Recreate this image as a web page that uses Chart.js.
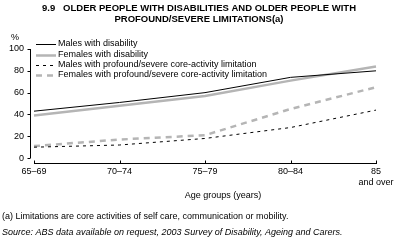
<!DOCTYPE html>
<html>
<head>
<meta charset="utf-8">
<script src="https://cdn.jsdelivr.net/npm/chart.js@4.4.1/dist/chart.umd.min.js"></script>
<style>
  html, body { margin: 0; padding: 0; background: #fff; }
  #wrap { position: relative; width: 397px; height: 246px; }
</style>
</head>
<body>
<div id="wrap"><canvas id="chart" width="397" height="246"></canvas></div>
<script>
// ── DATA ─────────────────────────────────────────────────────────────
const ageGroups = ['65–69', '70–74', '75–79', '80–84', ['85', 'and over']];
const yTicks = [0, 20, 40, 60, 80, 100];
const malesDisability   = [43, 51, 60, 74, 80];
const femalesDisability = [39, 48, 57, 71, 84];
const malesProfound     = [10, 12, 18, 28, 44];
const femalesProfound   = [11, 17, 21, 45, 65];

const FONT = '"Liberation Sans", Arial, sans-serif';
const GREY = '#b5b5b5';

// ── TEXT + AXIS LINES ────────────────────────────────────────────────
const decor = {
  id: 'decor',
  afterDatasetsDraw(chart) {
    const { ctx, chartArea: a, scales: { x, y } } = chart;
    ctx.save();
    ctx.strokeStyle = '#000';
    ctx.lineWidth = 1;
    // y axis
    const yx = Math.round(a.left - 4) + 0.5;
    ctx.beginPath();
    ctx.moveTo(yx, y.getPixelForValue(0));
    ctx.lineTo(yx, y.getPixelForValue(100));
    yTicks.forEach(v => {
      const py = Math.round(y.getPixelForValue(v)) + 0.5;
      ctx.moveTo(yx - 3, py); ctx.lineTo(yx, py);
    });
    // x axis
    const xy = Math.round(a.bottom) + 0.5;
    ctx.moveTo(a.left, xy); ctx.lineTo(a.right + 1, xy);
    ageGroups.forEach((_, i) => {
      const px = Math.round(x.getPixelForValue(i)) + 0.5;
      ctx.moveTo(px, xy); ctx.lineTo(px, xy - 3);
    });
    ctx.stroke();

    // legend
    ctx.textBaseline = 'middle';
    ctx.textAlign = 'left';
    ctx.font = '9px ' + FONT;
    const rowY = [44, 54.5, 64.5, 75];
    chart.data.datasets.forEach((ds, i) => {
      ctx.beginPath();
      ctx.strokeStyle = ds.borderColor;
      ctx.lineWidth = ds.borderWidth;
      ctx.setLineDash(ds.borderDash || []);
      ctx.moveTo(36, Math.round(rowY[i]) + 0.5);
      ctx.lineTo(56, Math.round(rowY[i]) + 0.5);
      ctx.stroke();
      ctx.setLineDash([]);
      ctx.fillStyle = '#000';
      ctx.fillText(ds.label, 58, rowY[i]);
    });

    // titles
    ctx.fillStyle = '#000';
    ctx.textAlign = 'center';
    ctx.font = 'bold 9.5px ' + FONT;
    ctx.fillText('9.9   OLDER PEOPLE WITH DISABILITIES AND OLDER PEOPLE WITH', 199, 8);
    ctx.fillText('PROFOUND/SEVERE LIMITATIONS(a)', 199, 19);
    ctx.font = '9px ' + FONT;
    ctx.fillText('%', 15, 38);
    ctx.fillText('Age groups (years)', 223, 196);
    ctx.textAlign = 'left';
    ctx.font = '9px ' + FONT;
    ctx.fillText('(a) Limitations are core activities of self care, communication or mobility.', 2, 217);
    ctx.font = 'italic 9px ' + FONT;
    ctx.fillText('Source: ABS data available on request, 2003 Survey of Disability, Ageing and Carers.', 2, 232);
    ctx.restore();
  }
};

// ── CHART ────────────────────────────────────────────────────────────
new Chart(document.getElementById('chart'), {
  type: 'line',
  data: {
    labels: ageGroups,
    datasets: [
      { label: 'Males with disability', data: malesDisability, borderColor: '#000', borderWidth: 1 },
      { label: 'Females with disability', data: femalesDisability, borderColor: GREY, borderWidth: 2.5 },
      { label: 'Males with profound/severe core-activity limitation', data: malesProfound, borderColor: '#000', borderWidth: 1, borderDash: [3, 4] },
      { label: 'Females with profound/severe core-activity limitation', data: femalesProfound, borderColor: GREY, borderWidth: 2.5, borderDash: [6, 5] },
    ]
  },
  options: {
    responsive: false, animation: false,
    layout: { padding: { left: 0, right: 21, top: 49, bottom: 53 } },
    elements: { point: { radius: 0 }, line: { tension: 0 } },
    plugins: { legend: { display: false }, tooltip: { enabled: false } },
    scales: {
      x: {
        offset: false,
        grid: { display: false, drawTicks: false }, border: { display: false },
        ticks: { color: '#000', font: { family: FONT, size: 9 }, padding: 3, maxRotation: 0, autoSkip: false },
        afterFit: s => { s.height = 30; }
      },
      y: {
        min: -4.5, max: 100,
        grid: { display: false, drawTicks: false }, border: { display: false },
        afterBuildTicks: s => { s.ticks = yTicks.map(v => ({ value: v })); },
        ticks: { color: '#000', font: { family: FONT, size: 9 }, padding: 10 },
        afterFit: s => { s.width = 34; }
      }
    }
  },
  plugins: [decor]
});
</script>
</body>
</html>
